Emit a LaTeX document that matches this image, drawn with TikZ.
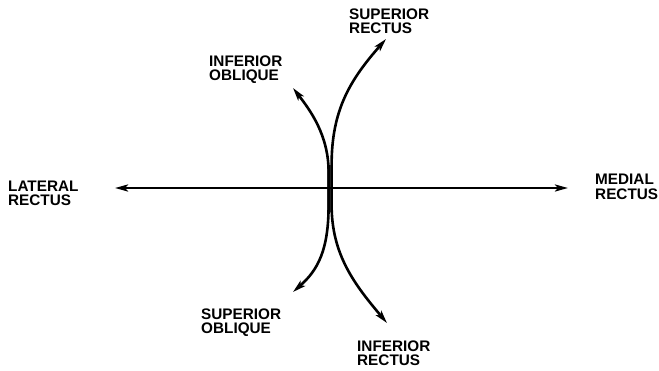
\documentclass[tikz,border=0pt]{standalone}
\usepackage{fontspec}
\setmainfont{Liberation Sans}
\usetikzlibrary{arrows.meta}
\begin{document}
\begin{tikzpicture}[x=1pt,y=-1pt,
  lbl/.style={anchor=base west,inner sep=0pt,align=left,
    font=\fontsize{15.3}{14.5}\selectfont\bfseries},
  tip/.tip={Stealth[length=13pt,width=7pt,inset=3pt]},
  muscle/.style={line width=2.6pt,-tip},
  axis/.style={line width=2.6pt,tip-tip}]
\useasboundingbox (0,0) rectangle (659,370);
% labels (anchor at baseline of the second line)
\node[lbl] (sr) at (349,33.5) {SUPERIOR\\RECTUS};
\node[lbl] (io) at (209,80.5) {INFERIOR\\OBLIQUE};
\node[lbl] (so) at (201,333.5) {SUPERIOR\\OBLIQUE};
\node[lbl] (ir) at (357,365.5) {INFERIOR\\RECTUS};
\node[lbl] (lr) at (8,205.5) {LATERAL\\RECTUS};
\node[lbl] (mr) at (595,199) {MEDIAL\\RECTUS};
% coordinates
\coordinate (lrtip) at (115,188);
\coordinate (mrtip) at (568,188);
\coordinate (srtip) at (386,39);
\coordinate (iotip) at (293,88);
\coordinate (sotip) at (293,292);
\coordinate (irtip) at (387,323);
\coordinate (ra) at (331.6,212);
\coordinate (rb) at (331.6,165);
\coordinate (oa) at (328.6,212);
\coordinate (ob) at (328.6,165);
% horizontal axis
\draw[axis] (lrtip) -- (mrtip);
% superior rectus
\draw[muscle] (ra) -- (rb) .. controls (331.6,110) and (350,80) .. (srtip);
% inferior oblique
\draw[muscle] (oa) -- (328.6,172) .. controls (328.6,135) and (310,110) .. (iotip);
% superior oblique
\draw[muscle] (ob) -- (328.6,205) .. controls (328.6,250) and (318,270) .. (sotip);
% inferior rectus
\draw[muscle] (rb) -- (331.6,205) .. controls (331.6,255) and (355,285) .. (irtip);
\end{tikzpicture}
\end{document}
